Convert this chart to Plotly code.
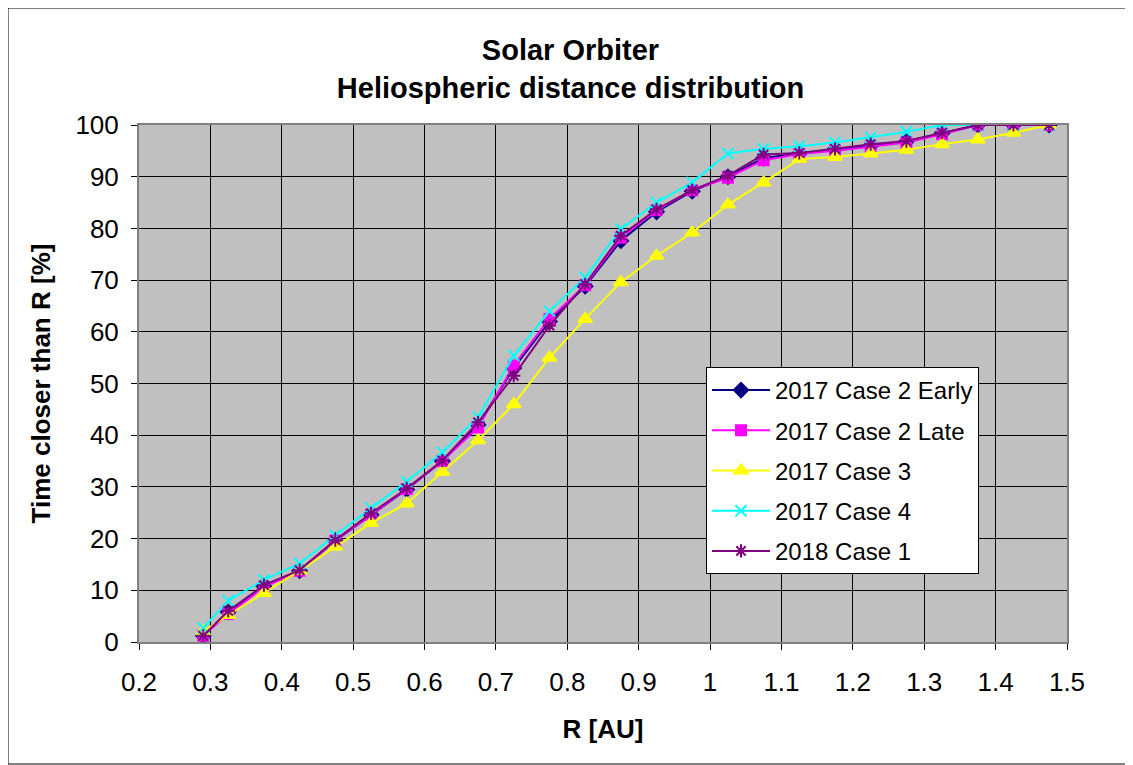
import plotly.graph_objects as go

# distance bins [AU]
r_au = [0.29, 0.325, 0.375, 0.425, 0.475, 0.525, 0.575, 0.625, 0.675, 0.725,
        0.775, 0.825, 0.875, 0.925, 0.975, 1.025, 1.075, 1.125, 1.175, 1.225,
        1.275, 1.325, 1.375, 1.425, 1.475]

case2_early = [1.2, 5.8, 10.8, 13.8, 19.6, 24.6, 29.5, 35.0, 42.0, 53.0,
               62.0, 68.8, 77.6, 83.2, 87.2, 90.0, 93.6, 94.5, 95.3, 96.0,
               96.8, 98.4, 100, 100, 100]
case2_late = [1.2, 5.4, 10.6, 13.8, 19.6, 24.6, 29.6, 35.0, 41.5, 53.5,
              62.5, 69.0, 78.2, 83.5, 87.4, 89.8, 93.2, 94.4, 95.0, 95.8,
              96.6, 98.2, 100, 100, 100]
case3 = [2.0, 5.2, 9.5, 13.8, 18.4, 23.0, 26.8, 32.9, 39.0, 46.0,
         55.0, 62.5, 69.6, 74.7, 79.2, 84.6, 88.9, 93.4, 93.8, 94.5,
         95.2, 96.3, 97.2, 98.5, 100]
case4 = [2.7, 8.0, 12.0, 15.2, 20.6, 25.9, 31.0, 36.7, 43.5, 55.4,
         64.0, 70.5, 79.9, 85.0, 88.9, 94.5, 95.4, 95.9, 96.6, 97.6,
         98.7, 100, 100, 100, 100]
case2018_1 = [1.2, 6.0, 11.0, 13.9, 19.7, 24.9, 29.7, 35.1, 42.5, 51.5,
              61.2, 69.2, 78.6, 83.7, 87.4, 90.2, 94.3, 94.6, 95.4, 96.3,
              96.9, 98.5, 100, 100, 100]

x_ticks = [0.2, 0.3, 0.4, 0.5, 0.6, 0.7, 0.8, 0.9, 1, 1.1, 1.2, 1.3, 1.4, 1.5]
x_tick_text = ["0.2", "0.3", "0.4", "0.5", "0.6", "0.7", "0.8", "0.9", "1",
               "1.1", "1.2", "1.3", "1.4", "1.5"]

series = [
    ("2017 Case 2 Early", case2_early, "#000080", "diamond", 11),
    ("2017 Case 2 Late", case2_late, "#FF00FF", "square", 10),
    ("2017 Case 3", case3, "#FFFF00", "triangle-up", 12),
    ("2017 Case 4", case4, "#00FFFF", "x-thin-open", 11),
    ("2018 Case 1", case2018_1, "#800080", "asterisk-open", 11),
]

fig = go.Figure()
for i, (name, values, color, symbol, size) in enumerate(series):
    fig.add_trace(
        go.Scatter(
            x=r_au,
            y=values,
            mode="lines+markers",
            name=name,
            legendgroup=f"g{i}",
            line={"color": color, "width": 2},
            marker={"symbol": symbol, "size": size, "color": color,
                    "line": {"color": color, "width": 2}},
        )
    )

font = "Liberation Sans, Arial, sans-serif"
# page shows the figure offset by the body margin, so size it a bit smaller
W, H = 1125, 757
L, R, T, B = 131, 66, 117, 123
pw, ph = W - L - R, H - T - B

fig.update_layout(
    width=W,
    height=H,
    margin={"l": L, "r": R, "t": T, "b": B},
    paper_bgcolor="white",
    plot_bgcolor="#C0C0C0",
    font={"family": font, "size": 26, "color": "black"},
    title={
        "text": "<b>Solar Orbiter<br>Heliospheric distance distribution</b>",
        "x": 0.5,
        "xanchor": "center",
        "y": 1 - 52 / H,
        "yanchor": "middle",
        "font": {"size": 29, "family": font},
    },
    legend={
        "x": (698 - L) / pw,
        "y": (H - B - 359) / ph,
        "xanchor": "left",
        "yanchor": "top",
        "bgcolor": "white",
        "bordercolor": "black",
        "borderwidth": 1,
        "font": {"size": 24, "family": font},
        "itemwidth": 58,
        "tracegroupgap": 6,
    },
    shapes=[
        {
            "type": "rect",
            "xref": "paper",
            "yref": "paper",
            "x0": (0 - L) / pw,
            "x1": (1122 - L) / pw,
            "y0": (H - B - 756) / ph,
            "y1": (H - B - 0) / ph,
            "line": {"color": "black", "width": 1},
            "layer": "below",
        }
    ],
)

fig.update_xaxes(
    range=[0.2, 1.5],
    tickvals=x_ticks,
    ticktext=x_tick_text,
    ticks="outside",
    ticklen=6,
    tickcolor="black",
    ticklabelstandoff=10,
    showgrid=True,
    gridcolor="black",
    gridwidth=1,
    showline=True,
    linecolor="#808080",
    linewidth=2,
    mirror=True,
    zeroline=False,
    title={"text": "<b>R [AU]</b>", "font": {"size": 26}, "standoff": 24},
)
fig.update_yaxes(
    range=[0, 100],
    dtick=10,
    ticks="outside",
    ticklen=6,
    tickcolor="black",
    ticklabelstandoff=7,
    showgrid=True,
    gridcolor="black",
    gridwidth=1,
    showline=True,
    linecolor="#808080",
    linewidth=2,
    mirror=True,
    zeroline=False,
    title={"text": "<b>Time closer than R [%]</b>", "font": {"size": 26},
           "standoff": 17},
)

fig.write_html("out.html")
